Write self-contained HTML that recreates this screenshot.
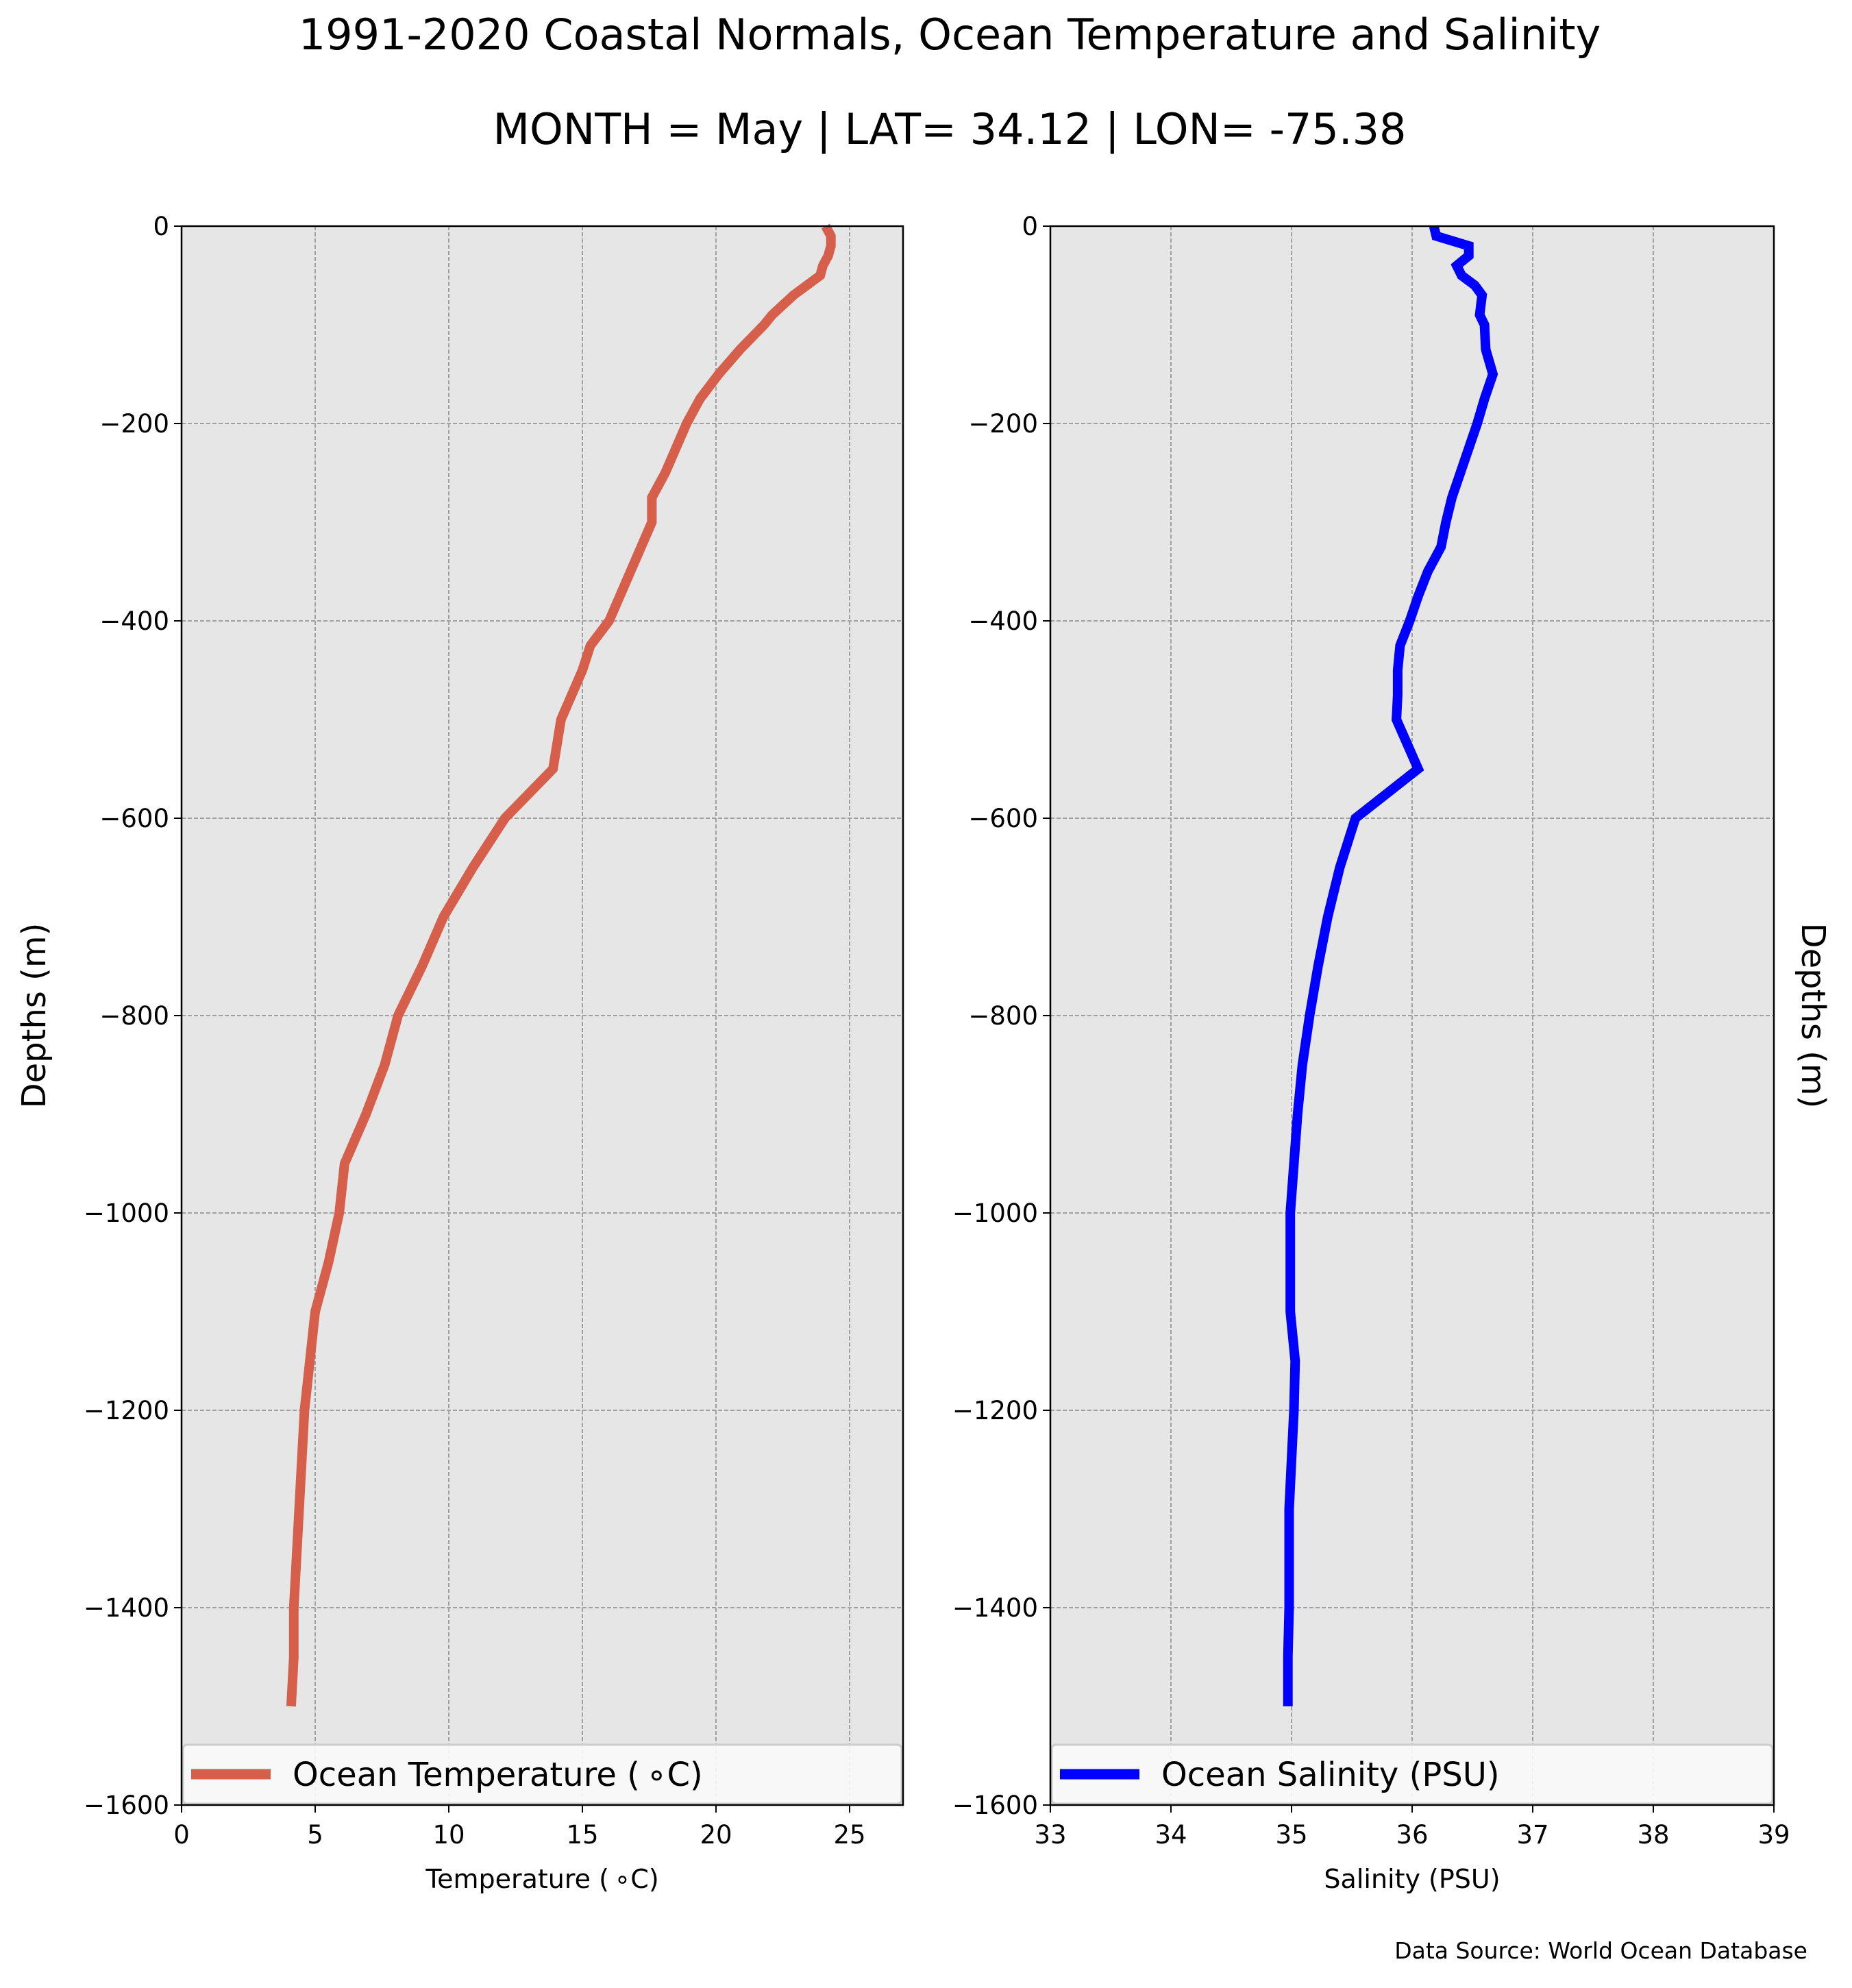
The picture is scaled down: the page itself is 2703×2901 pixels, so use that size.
<!DOCTYPE html>
<html><head><meta charset="utf-8"><style>
html,body{margin:0;padding:0;background:#fff;}
svg{display:block;font-family:"DejaVu Sans","Liberation Sans",sans-serif;}
</style></head><body>
<svg id="fig" width="2703" height="2901" viewBox="0 0 2703 2901" xmlns="http://www.w3.org/2000/svg">
<rect width="2703" height="2901" fill="#fff"/>
<text x="1386" y="72" font-size="62" text-anchor="middle">1991-2020 Coastal Normals, Ocean Temperature and Salinity</text>
<text x="1386" y="210" font-size="62" text-anchor="middle">MONTH = May | LAT= 34.12 | LON= -75.38</text>
<text transform="translate(66,1482) rotate(-90)" font-size="48" text-anchor="middle">Depths (m)</text>
<text transform="translate(2630,1482) rotate(90)" font-size="48" text-anchor="middle">Depths (m)</text>
<text x="2638" y="2858" font-size="33" text-anchor="end">Data Source: World Ocean Database</text>
<g id="left"></g>
<g id="right"></g>
</svg>
<script>
const depths = [0,10,20,30,40,50,60,70,80,90,100,125,150,175,200,225,250,275,300,325,350,375,400,425,450,475,500,550,600,650,700,750,800,850,900,950,1000,1050,1100,1150,1200,1250,1300,1350,1400,1450,1500];
const temperature = [24.1,24.3,24.3,24.2,24.0,23.9,23.4,22.9,22.5,22.1,21.8,20.9,20.1,19.4,18.9,18.5,18.1,17.6,17.6,17.2,16.8,16.4,16.0,15.3,15.0,14.6,14.2,13.9,12.1,10.9,9.8,9.0,8.1,7.6,6.9,6.1,5.9,5.5,5.0,4.8,4.6,4.5,4.4,4.3,4.2,4.2,4.1];
const salinity = [36.18,36.2,36.47,36.47,36.37,36.41,36.52,36.58,36.57,36.56,36.6,36.61,36.67,36.6,36.54,36.47,36.4,36.33,36.28,36.24,36.13,36.05,35.98,35.9,35.88,35.88,35.87,36.05,35.53,35.4,35.3,35.22,35.15,35.09,35.05,35.02,34.99,34.99,34.99,35.03,35.02,35.0,34.98,34.98,34.98,34.97,34.97];
const yTicks = [0,-200,-400,-600,-800,-1000,-1200,-1400,-1600];
const tempTicks = [0,5,10,15,20,25];
const salTicks = [33,34,35,36,37,38,39];

const NS='http://www.w3.org/2000/svg';
function mk(parent,tag,attrs){const e=document.createElementNS(NS,tag);for(const k in attrs)e.setAttribute(k,attrs[k]);parent.appendChild(e);return e;}

function panel(g,x0,x1,xmin,xmax,xTicks,vals,color,xlabel,legendText,prefix){
  const top=330,bot=2634;
  const sx=v=>x0+(v-xmin)/(xmax-xmin)*(x1-x0);
  const sy=d=>top+(0-d)/(1600)*(bot-top);
  const bg=mk(g,'rect',{x:x0,y:top,width:x1-x0,height:bot-top,fill:'#e6e6e6'});
  
  
  yTicks.forEach(t=>{
    const y=sy(t);
    const gl=mk(g,'line',{x1:x0,x2:x1,y1:y,y2:y,stroke:'#a0a0a0','stroke-width':2,'stroke-dasharray':'6,3'});
    
    
    mk(g,'line',{x1:x0-11,x2:x0,y1:y,y2:y,stroke:'#000','stroke-width':2});
    const tl=mk(g,'text',{x:x0-18,y:y+13,'font-size':37,'text-anchor':'end'});
    tl.textContent=(t<0?'\u2212'+(-t):String(t));
    
    
  });
  xTicks.forEach(t=>{
    const x=sx(t);
    const gl=mk(g,'line',{x1:x,x2:x,y1:top,y2:bot,stroke:'#a0a0a0','stroke-width':2,'stroke-dasharray':'6,3'});
    
    
    mk(g,'line',{x1:x,x2:x,y1:bot,y2:bot+11,stroke:'#000','stroke-width':2});
    const tl=mk(g,'text',{x:x,y:bot+56,'font-size':37,'text-anchor':'middle'});
    tl.textContent=String(t);
    
    
  });
  const pts=depths.map((d,i)=>sx(vals[i]).toFixed(1)+','+sy(-d).toFixed(1)).join(' ');
  const line=mk(g,'polyline',{points:pts,fill:'none',stroke:color,'stroke-width':14,'stroke-linejoin':'miter'});
  
  
  const lg=mk(g,'g',{});
  
  
  mk(lg,'rect',{x:x0+2,y:2546,width:x1-x0-4,height:86,rx:6,fill:'#fafafa','fill-opacity':0.9,stroke:'#cccccc','stroke-width':3});
  mk(lg,'line',{x1:x0+14,x2:x0+130,y1:2589,y2:2589,stroke:color,'stroke-width':15});
  const lt=mk(lg,'text',{x:x0+162,y:2606,'font-size':48});
  lt.textContent=legendText;
  mk(g,'rect',{x:x0,y:top,width:x1-x0,height:bot-top,fill:'none',stroke:'#000','stroke-width':2.5});
  const xl=mk(g,'text',{x:(x0+x1)/2,y:2755,'font-size':38,'text-anchor':'middle'});
  xl.textContent=xlabel;
  
  
}
panel(document.getElementById('left'),265,1318,0,27,tempTicks,temperature,'#d65f4c','Temperature (\u2009\u2218C)','Ocean Temperature (\u2009\u2218C)','temp');
panel(document.getElementById('right'),1533,2589,33,39,salTicks,salinity,'#0000ff','Salinity (PSU)','Ocean Salinity (PSU)','sal');
</script>
</body></html>
